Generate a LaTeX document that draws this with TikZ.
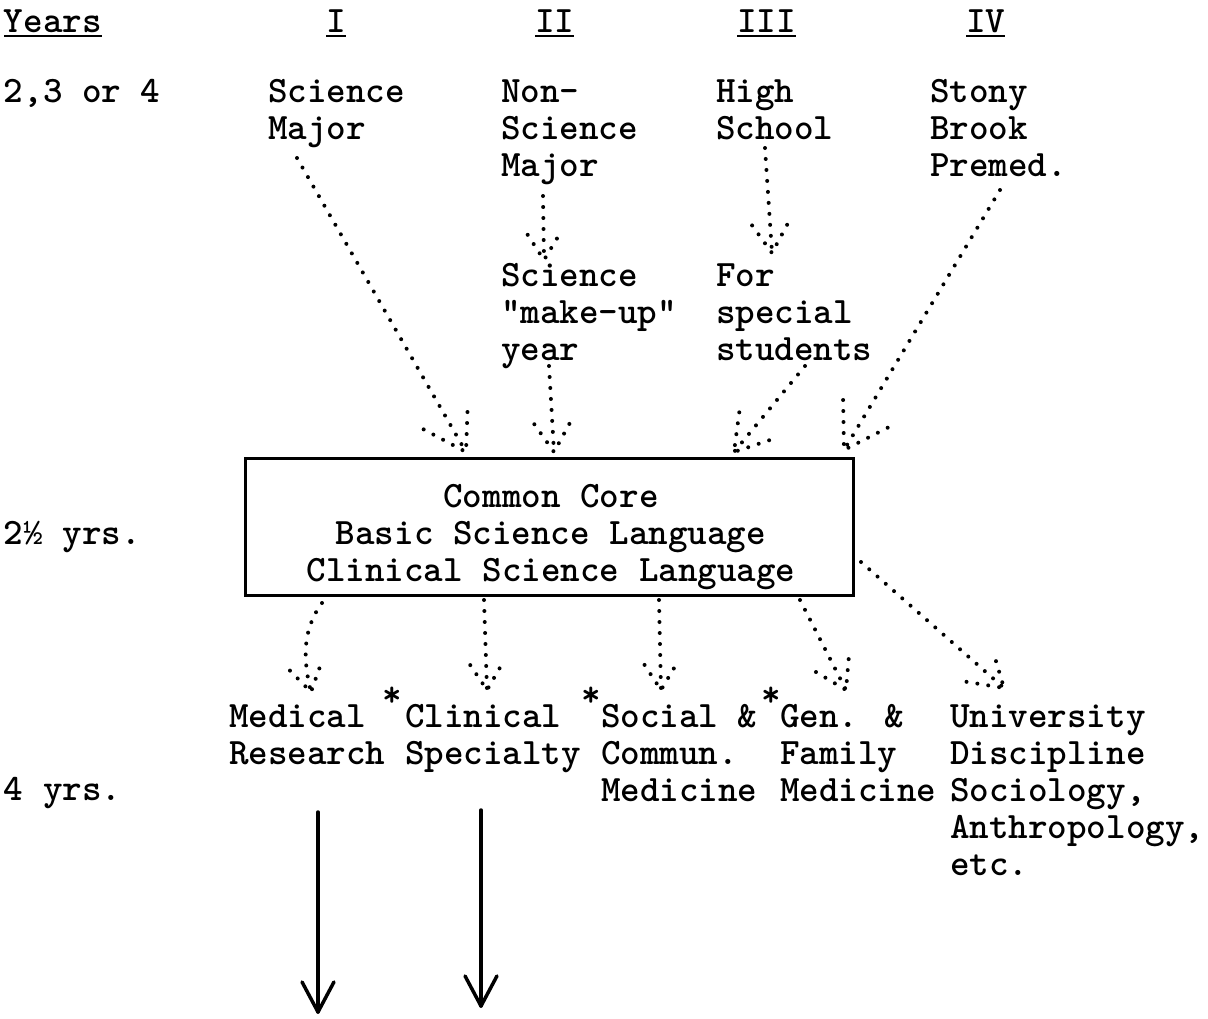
\documentclass[tikz,border=0pt]{standalone}
\usepackage{fontspec}
\usetikzlibrary{calc}
\newcommand\dotarrow[3]{%
  \draw[dotline] (#1) -- (#2);
  \draw[dotline] ($(#2)!#3!32:(#1)$) -- (#2) -- ($(#2)!#3!-32:(#1)$);
}
\newcommand\twfont{\ttfamily\bfseries\fontsize{37.25}{37}\selectfont}
\newcommand\fl{\rule{0pt}{28pt}}
\begin{document}
\begin{tikzpicture}[x=1pt,y=-1pt,
  every node/.style={inner sep=0pt,outer sep=0pt},
  txt/.style={font=\twfont, anchor=base west},
  mtxt/.style={font=\twfont, align=left, anchor=north west, yshift=28pt},
  ctxt/.style={font=\twfont, align=center, anchor=north, yshift=28pt},
  uline/.style={line width=2pt},
  corebox/.style={draw, line width=3pt, minimum width=608pt, minimum height=137pt},
  dotline/.style={line width=4pt, line cap=round, dash pattern=on 0pt off 11pt},
  solidarrow/.style={line width=3.5pt, line cap=round, line join=round},
]
\fill[white] (0,0) rectangle (1208,1018);
\useasboundingbox (0,0) rectangle (1208,1018);

% header
\node[txt] (yrs) at (4,32) {Years};
\node[txt] (h1) at (326,32) {I};
\node[txt] (h2) at (535,32) {II};
\node[txt] (h3) at (737,32) {III};
\node[txt] (h4) at (966,32) {IV};
\foreach \n in {yrs,h1,h2,h3,h4}
  \draw[uline] ($(\n.base west)+(0,4)$) -- ($(\n.base east)+(0,4)$);

% row 1
\node[txt] (y1) at (4,102) {2,3 or 4};
\node[mtxt] (sci) at (268,102) {\fl Science\\Major};
\node[mtxt] (nonsci) at (501,102) {\fl Non-\\Science\\Major};
\node[mtxt] (high) at (716,102) {\fl High\\School};
\node[mtxt] (stony) at (930,102) {\fl Stony\\Brook\\Premed.};
\node[mtxt] (makeup) at (501,286) {\fl Science\\\textquotedbl make-up\textquotedbl\\year};
\node[mtxt] (special) at (716,286) {\fl For\\special\\students};

% core box
\node[corebox] (box) at (549,526.5) {};
\node[ctxt] (core) at (551,507) {\fl Common Core\\Basic Science Language\\Clinical Science Language};
\node[txt] (y2) at (4,544) {2½ yrs.};

% outcomes
\node[mtxt] (med) at (229,727) {\fl Medical\\Research};
\node[mtxt] (clin) at (405,727) {\fl Clinical\\Specialty};
\node[mtxt] (soc) at (601,727) {\fl Social \&\\Commun.\\Medicine};
\node[mtxt] (gen) at (780,727) {\fl Gen. \&\\Family\\Medicine};
\node[mtxt] (univ) at (950,727) {\fl University\\Discipline\\Sociology,\\Anthropology,\\etc.};
\node[txt] (y3) at (4,800) {4 yrs.};
\node[txt,anchor=base] (st1) at (392,706) {*};
\node[txt,anchor=base] (st2) at (591,706) {*};
\node[txt,anchor=base] (st3) at (771,706) {*};

% connector end points
\coordinate (sciOut) at (297,158);
\coordinate (boxIn1) at (466,452);
\coordinate (nonsciOut) at (543,196);
\coordinate (makeupIn) at (544,260);
\coordinate (makeupOut) at (549,366);
\coordinate (boxIn2) at (554,452);
\coordinate (highOut) at (765,148);
\coordinate (specialIn) at (772,253);
\coordinate (specialOut) at (805,366);
\coordinate (boxIn3) at (734,452);
\coordinate (stonyOut) at (1000,190);
\coordinate (boxIn4) at (844,450);

\coordinate (boxOut1) at (322,603);
\coordinate (medCtl) at (305,665);
\coordinate (medIn) at (311,692);
\coordinate (boxOut2) at (484,600);
\coordinate (clinIn) at (487,690);
\coordinate (boxOut3) at (659,600);
\coordinate (socIn) at (661,690);
\coordinate (boxOut4) at (800,600);
\coordinate (genIn) at (846,690);
\coordinate (boxOut5) at (861,562);
\coordinate (univIn) at (1004,688);

\coordinate (medDown) at (318,812);
\coordinate (medEnd) at (318,1012);
\coordinate (clinDown) at (481,810);
\coordinate (clinEnd) at (481,1006);

% dotted arrows in
\dotarrow{sciOut}{boxIn1}{48pt}
\dotarrow{nonsciOut}{makeupIn}{30pt}
\dotarrow{makeupOut}{boxIn2}{34pt}
\dotarrow{highOut}{specialIn}{34pt}
\dotarrow{specialOut}{boxIn3}{40pt}
\dotarrow{stonyOut}{boxIn4}{50pt}

% dotted arrows out
\draw[dotline] (boxOut1) .. controls (302,630) and (303,660) .. (medIn);
\draw[dotline] ($(medIn)!30pt!32:(medCtl)$) -- (medIn) -- ($(medIn)!30pt!-32:(medCtl)$);
\dotarrow{boxOut2}{clinIn}{30pt}
\dotarrow{boxOut3}{socIn}{30pt}
\dotarrow{boxOut4}{genIn}{35pt}
\dotarrow{boxOut5}{univIn}{38pt}

% solid arrows
\draw[solidarrow] (medDown) -- (medEnd);
\draw[solidarrow] ($(medEnd)!34pt!28:(medDown)$) -- (medEnd) -- ($(medEnd)!34pt!-28:(medDown)$);
\draw[solidarrow] (clinDown) -- (clinEnd);
\draw[solidarrow] ($(clinEnd)!34pt!28:(clinDown)$) -- (clinEnd) -- ($(clinEnd)!34pt!-28:(clinDown)$);
\end{tikzpicture}
\end{document}
